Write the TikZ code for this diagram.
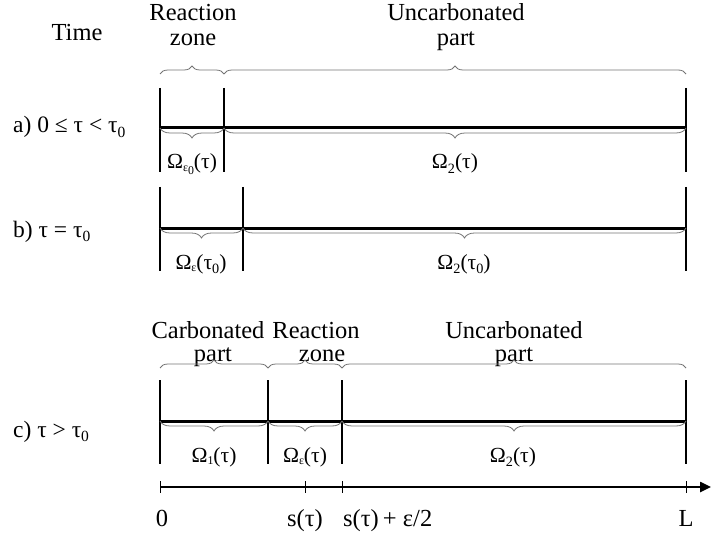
\documentclass[tikz,border=0pt]{standalone}
\usepackage{fontspec}
\setmainfont{Liberation Serif}
\usetikzlibrary{decorations.pathreplacing,arrows.meta}
\newcommand\lsub[1]{\raisebox{-0.45ex}{\scalebox{0.66}{#1}}}
\newcommand\esub[1]{\raisebox{-0.25ex}{\scalebox{0.55}{#1}}}
\begin{document}
\begin{tikzpicture}[x=1pt,y=-1pt,
  bar/.style={line width=2.6pt},
  seg/.style={line width=3pt},
  br/.style={decorate,decoration={brace,amplitude=8pt},draw=black!55,line width=0.8pt},
  brm/.style={decorate,decoration={brace,amplitude=10pt,mirror},draw=black!55,line width=0.8pt},
  head/.style={font=\fontsize{24.5}{26}\selectfont,anchor=base,inner sep=0pt},
  rowlab/.style={font=\fontsize{23.5}{26}\selectfont,anchor=base west,inner sep=0pt},
  omlab/.style={font=\fontsize{21.5}{23}\selectfont,anchor=base,inner sep=0pt},
  axlab/.style={font=\fontsize{24.5}{26}\selectfont,anchor=base,inner sep=0pt},
  tick/.style={line width=0.8pt}]
\useasboundingbox (0,0) rectangle (711,537);
% headers
\node[head] (time) at (77,41) {Time};
\node[head] (rz) at (193,21) {Reaction};
\node[head] (rzb) at (193,46) {zone};
\node[head] (up) at (456,21) {Uncarbonated};
\node[head] (upb) at (456,46) {part};
% ---- row a
\coordinate (a0) at (160,128);
\coordinate (a1) at (224,128);
\coordinate (a2) at (686,128);
\draw[br] (160,74) -- (224,74);
\draw[br] (224,74) -- (686,74);
\draw[bar] (160,88) -- (160,172);
\draw[bar] (224,88) -- (224,172);
\draw[bar] (686,88) -- (686,172);
\draw[seg] (a0) -- (a2);
\draw[brm] (a0) -- (a1);
\draw[brm] (a1) -- (a2);
\node[rowlab] (la) at (13,133) {a) 0 ≤ τ < τ\lsub{0}};
\node[omlab] (oa1) at (192,169) {Ω\esub{ε\raisebox{-0.5ex}{0}}(τ)};
\node[omlab] (oa2) at (455,169) {Ω\lsub{2}(τ)};
% ---- row b
\coordinate (b0) at (160,228);
\coordinate (b1) at (243,228);
\coordinate (b2) at (686,228);
\draw[bar] (160,187) -- (160,271);
\draw[bar] (243,187) -- (243,271);
\draw[bar] (686,187) -- (686,271);
\draw[seg] (b0) -- (b2);
\draw[brm] (b0) -- (b1);
\draw[brm] (b1) -- (b2);
\node[rowlab] (lb) at (13,237) {b) τ = τ\lsub{0}};
\node[omlab] (ob1) at (201,269) {Ω\esub{ε}(τ\lsub{0})};
\node[omlab] (ob2) at (464,269) {Ω\lsub{2}(τ\lsub{0})};
% ---- row c
\node[head] (cp) at (208,338) {Carbonated};
\node[head] (cp2) at (213,361) {part};
\node[head] (rz2) at (316,338) {Reaction};
\node[head] (rz3) at (322,361) {zone};
\node[head] (up2) at (514,338) {Uncarbonated};
\node[head] (up3) at (514,361) {part};
\coordinate (c0) at (160,421);
\coordinate (c1) at (268,421);
\coordinate (c2) at (342,421);
\coordinate (c3) at (686,421);
\draw[br] (160,368) -- (268,368);
\draw[br] (268,368) -- (342,368);
\draw[br] (342,368) -- (686,368);
\draw[bar] (160,380) -- (160,464);
\draw[bar] (268,380) -- (268,464);
\draw[bar] (342,380) -- (342,464);
\draw[bar] (686,380) -- (686,464);
\draw[seg] (c0) -- (c3);
\draw[brm] (c0) -- (c1);
\draw[brm] (c1) -- (c2);
\draw[brm] (c2) -- (c3);
\node[rowlab] (lc) at (13,437) {c) τ > τ\lsub{0}};
\node[omlab] (oc1) at (214,462) {Ω\esub{1}(τ)};
\node[omlab] (oc2) at (305,462) {Ω\esub{ε}(τ)};
\node[omlab] (oc3) at (513,462) {Ω\lsub{2}(τ)};
% ---- axis
\coordinate (x0) at (160,487);
\coordinate (xe) at (711,487);
\draw[line width=2.4pt,-{Triangle[length=11pt,width=10pt]}] (x0) -- (xe);
\foreach \xx in {160,305,342,686} \draw[tick] (\xx,481) -- (\xx,493);
\node[axlab] (t0) at (162,526) {0};
\node[axlab] (ts) at (305,526) {s(τ)};
\node[axlab,anchor=base west] (tse) at (343,526) {s(τ)\,+ ε/2};
\node[axlab] (tl) at (686,526) {L};
\end{tikzpicture}
\end{document}
